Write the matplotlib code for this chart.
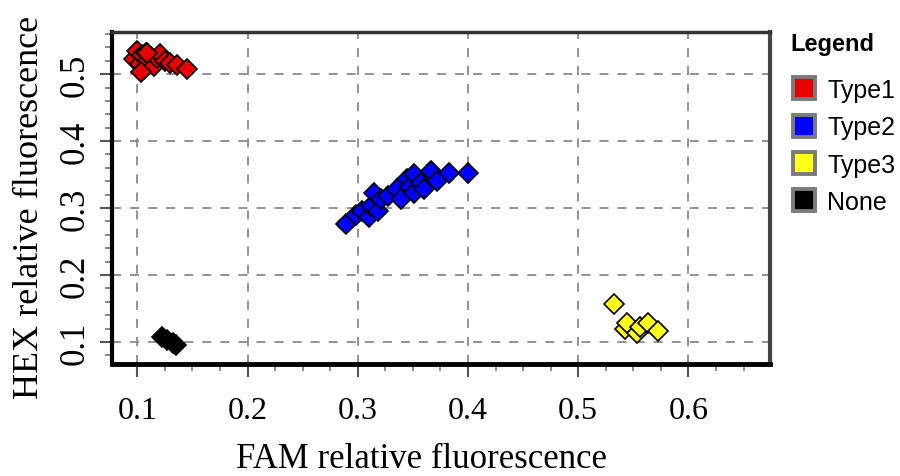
import matplotlib.pyplot as plt
from matplotlib.lines import Line2D
from matplotlib.ticker import MultipleLocator

# --- data ---
type1_x = [0.097, 0.100, 0.102, 0.104, 0.106, 0.108, 0.110, 0.112, 0.115,
           0.118, 0.121, 0.125, 0.130, 0.136, 0.145, 0.103, 0.109]
type1_y = [0.522, 0.535, 0.515, 0.528, 0.508, 0.532, 0.520, 0.526, 0.512,
           0.524, 0.530, 0.520, 0.517, 0.514, 0.508, 0.503, 0.532]

type2_x = [0.289, 0.298, 0.304, 0.310, 0.312, 0.315, 0.318, 0.321, 0.327,
           0.336, 0.339, 0.345, 0.347, 0.351, 0.351, 0.357, 0.360, 0.366,
           0.372, 0.383, 0.400]
type2_y = [0.276, 0.289, 0.296, 0.286, 0.303, 0.323, 0.296, 0.313, 0.318,
           0.328, 0.313, 0.343, 0.331, 0.351, 0.323, 0.338, 0.328, 0.356,
           0.341, 0.353, 0.353]

type3_x = [0.532, 0.542, 0.544, 0.553, 0.556, 0.563, 0.572]
type3_y = [0.157, 0.119, 0.129, 0.114, 0.122, 0.129, 0.117]

none_x = [0.122, 0.127, 0.132, 0.135]
none_y = [0.108, 0.103, 0.098, 0.095]

groups = ['Type1', 'Type2', 'Type3', 'None']
colors = ['#e60000', '#0000ff', '#ffff1a', '#000000']
xs = [type1_x, type2_x, type3_x, none_x]
ys = [type1_y, type2_y, type3_y, none_y]

serif = ['Liberation Serif', 'DejaVu Serif']
sans = ['Liberation Sans', 'DejaVu Sans']

fig = plt.figure(figsize=(9, 4.77), dpi=100)
ax = fig.add_axes([0.1244, 0.2348, 0.7312, 0.696])

for gx, gy, c in zip(xs, ys, colors):
    ax.plot(gx, gy, linestyle='none', marker='D', markersize=10,
            markerfacecolor=c, markeredgecolor='black', markeredgewidth=1.2,
            zorder=3)

ax.set_xlim(0.077, 0.674)
ax.set_ylim(0.067, 0.563)

ax.xaxis.set_major_locator(MultipleLocator(0.1))
ax.xaxis.set_minor_locator(MultipleLocator(0.025))
ax.yaxis.set_major_locator(MultipleLocator(0.1))
ax.yaxis.set_minor_locator(MultipleLocator(0.02))

ax.grid(True, which='major', color='#8a8a8a', linestyle=(0, (5, 5)),
        linewidth=1.3, zorder=1)

ax.tick_params(which='major', direction='out', length=9, width=1.5,
               color='#555555', top=False, right=False)
ax.tick_params(which='minor', direction='out', length=5, width=1.2,
               color='#777777', top=False, right=False)
ax.tick_params(axis='x', which='major', pad=14)
ax.tick_params(axis='y', which='major', pad=6)

for lab in ax.get_xticklabels():
    lab.set_fontfamily(serif)
    lab.set_fontsize(23)
for lab in ax.get_yticklabels():
    lab.set_fontfamily(serif)
    lab.set_fontsize(25)
    lab.set_rotation(90)
    lab.set_verticalalignment('center')

ax.set_xlabel('FAM relative fluorescence', fontsize=25, family=serif)
ax.set_ylabel('HEX relative fluorescence', fontsize=26, family=serif)
ax.xaxis.set_label_coords(0.471, -0.235)
ax.yaxis.set_label_coords(-0.100, 0.476)

ax.spines['left'].set_linewidth(3)
ax.spines['bottom'].set_linewidth(3.5)
ax.spines['left'].set_color('black')
ax.spines['bottom'].set_color('black')
ax.spines['top'].set_linewidth(2.5)
ax.spines['right'].set_linewidth(3)
ax.spines['top'].set_color('#333333')
ax.spines['right'].set_color('#444444')

fig.text(0.878, 1 - 45 / 477, 'Legend', family=sans, fontsize=17,
         fontweight='bold', va='center', ha='left')

handles = [Line2D([], [], linestyle='none', marker='s', markersize=16,
                  markerfacecolor=c, markeredgecolor='#7a7a7a',
                  markeredgewidth=2.8) for c in colors]
leg = fig.legend(handles, groups, loc='upper left',
                 bbox_to_anchor=(0.879, 1 - 79 / 477), frameon=False,
                 prop={'family': sans, 'size': 18},
                 labelspacing=0.53, handlelength=1.0, handletextpad=0.45,
                 borderaxespad=0, borderpad=0)

fig.savefig('out.png', dpi=100)
